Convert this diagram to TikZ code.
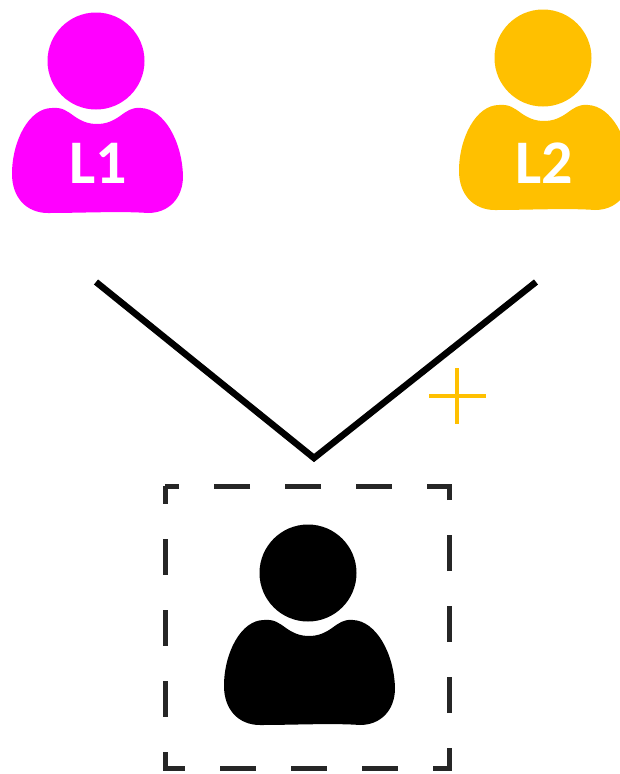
\documentclass[tikz,border=0pt]{standalone}
\usepackage{fontspec}
\setmainfont{Carlito}
\definecolor{lmag}{HTML}{FF00FF}
\definecolor{lyel}{HTML}{FFC000}
\tikzset{
  person/.pic={
    \fill[pic actions] (0,0) circle (48.5);
    \fill[pic actions] (-44,47)
      .. controls (-34,46) and (-29,50) .. (-22,55)
      .. controls (-15,60) and (-8,63) .. (1,63)
      .. controls (10,63) and (17,60) .. (24,55)
      .. controls (31,50) and (36,46) .. (45,47)
      .. controls (68,48) and (86,80) .. (87,115)
      .. controls (87,138) and (72,152) .. (52,152)
      .. controls (25,150) and (-15,152) .. (-48,152)
      .. controls (-70,152) and (-84,136) .. (-84,113)
      .. controls (-84,80) and (-67,47) .. (-44,47) -- cycle;
  },
  vline/.style={line width=6.5, line cap=butt, line join=miter},
  plusline/.style={line width=4.5, draw=lyel},
  lab/.style={text=white, font=\fontsize{62}{62}\selectfont\bfseries, inner sep=0},
  dashbox/.style={draw=black!85, line width=5, dash pattern=on 36 off 35, dash phase=18, line join=miter}
}
\begin{document}
\begin{tikzpicture}[x=1pt,y=-1pt]
\useasboundingbox (0,0) rectangle (620,774);
\pic[fill=lmag] at (96,61) {person};
\pic[fill=lyel] at (543,58) {person};
\pic[fill=black] at (308,573) {person};
\node[lab] (l1) at (98,163) {L1};
\node[lab] (l2) at (544,163) {L2};
\coordinate (a) at (96,282);
\coordinate (b) at (314,458);
\coordinate (c) at (536,282);
\draw[vline] (a) -- (b) -- (c);
\coordinate (ph1) at (429,396);
\coordinate (ph2) at (486,396);
\coordinate (pv1) at (457,368);
\coordinate (pv2) at (457,424);
\draw[plusline] (ph1) -- (ph2);
\draw[plusline] (pv1) -- (pv2);
\coordinate (bx1) at (165,486);
\coordinate (bx2) at (449,768);
\draw[dashbox] (bx1) rectangle (bx2);
\end{tikzpicture}
\end{document}
